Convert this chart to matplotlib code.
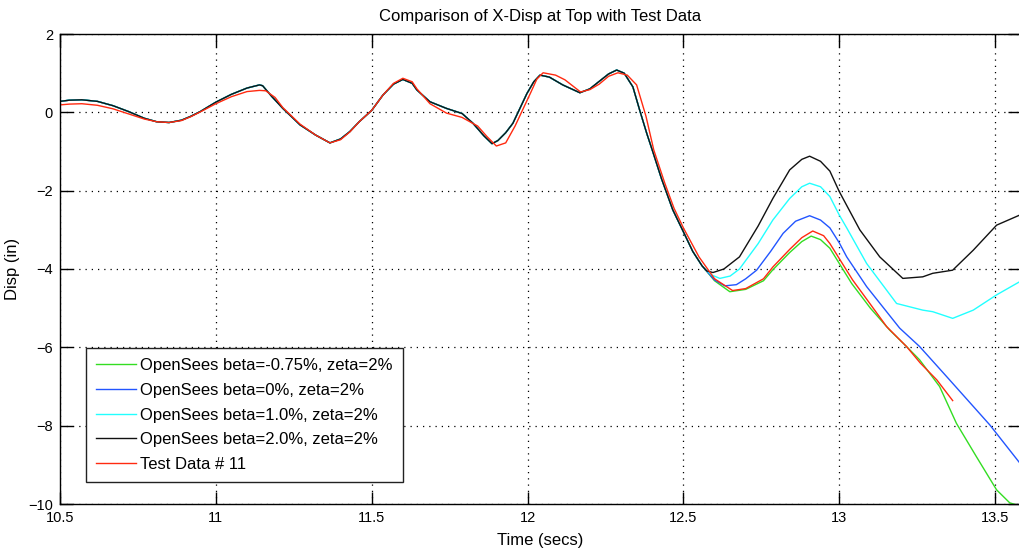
import matplotlib.pyplot as plt

# shared part of the four OpenSees runs (they overlap up to ~12.56 s)
t_common = [10.50, 10.53, 10.57, 10.62, 10.67, 10.72, 10.77, 10.81, 10.85, 10.89,
            10.92, 10.95, 11.00, 11.05, 11.10, 11.14, 11.15, 11.18, 11.215, 11.27,
            11.32, 11.366, 11.40, 11.43, 11.46, 11.50, 11.536, 11.57, 11.60, 11.63,
            11.645, 11.687, 11.74, 11.79, 11.825, 11.86, 11.886, 11.905, 11.93, 11.953,
            11.998, 12.02, 12.04, 12.07, 12.113, 12.168, 12.20, 12.222, 12.26, 12.286,
            12.31, 12.338, 12.36, 12.383, 12.40, 12.43, 12.466, 12.50, 12.53, 12.56]
d_common = [0.28, 0.31, 0.32, 0.28, 0.17, 0.02, -0.15, -0.24, -0.26, -0.20,
            -0.10, 0.02, 0.26, 0.46, 0.62, 0.70, 0.68, 0.40, 0.10, -0.32,
            -0.58, -0.78, -0.68, -0.49, -0.24, 0.05, 0.44, 0.72, 0.84, 0.74,
            0.57, 0.27, 0.10, -0.03, -0.28, -0.60, -0.80, -0.72, -0.52, -0.28,
            0.48, 0.78, 0.95, 0.90, 0.70, 0.50, 0.60, 0.74, 0.98, 1.08,
            1.00, 0.65, 0.05, -0.55, -0.96, -1.70, -2.49, -3.05, -3.55, -3.92]

# beta = -0.75 %
t_green = [12.56, 12.60, 12.649, 12.70, 12.757, 12.787, 12.841, 12.88, 12.91, 12.94,
           12.97, 13.04, 13.10, 13.162, 13.216, 13.258, 13.322, 13.376, 13.44, 13.505,
           13.547, 13.58]
d_green = [-3.92, -4.30, -4.58, -4.52, -4.30, -4.02, -3.58, -3.30, -3.16, -3.25,
           -3.47, -4.37, -5.00, -5.56, -5.98, -6.32, -7.00, -7.94, -8.79, -9.64,
           -9.97, -10.05]

# beta = 0 %
t_blue = [12.56, 12.60, 12.633, 12.67, 12.70, 12.735, 12.78, 12.82, 12.86, 12.905,
          12.94, 12.97, 13.00, 13.024, 13.088, 13.194, 13.258, 13.354, 13.483, 13.58]
d_blue = [-3.92, -4.28, -4.43, -4.40, -4.25, -4.03, -3.55, -3.09, -2.78, -2.64,
          -2.75, -2.95, -3.33, -3.69, -4.45, -5.51, -5.98, -6.83, -7.98, -8.96]

# beta = 1.0 %
t_cyan = [12.56, 12.59, 12.617, 12.65, 12.68, 12.74, 12.787, 12.841, 12.88, 12.905,
          12.94, 12.97, 13.00, 13.024, 13.088, 13.184, 13.268, 13.30, 13.364, 13.43,
          13.505, 13.58]
d_cyan = [-3.92, -4.15, -4.24, -4.18, -4.00, -3.35, -2.75, -2.20, -1.90, -1.81,
          -1.90, -2.15, -2.62, -2.95, -3.86, -4.88, -5.05, -5.09, -5.26, -5.05,
          -4.66, -4.32]

# beta = 2.0 %
t_black = [12.56, 12.575, 12.595, 12.63, 12.68, 12.74, 12.787, 12.841, 12.88, 12.905,
           12.94, 12.97, 13.00, 13.066, 13.13, 13.204, 13.268, 13.30, 13.364, 13.43,
           13.505, 13.58]
d_black = [-3.92, -4.05, -4.09, -4.00, -3.69, -2.90, -2.20, -1.47, -1.20, -1.12,
           -1.25, -1.50, -2.02, -3.00, -3.69, -4.24, -4.20, -4.11, -4.03, -3.52,
           -2.88, -2.62]

# measured response, test # 11
t_test = [10.50, 10.53, 10.57, 10.62, 10.67, 10.72, 10.77, 10.81, 10.85, 10.89,
          10.92, 10.95, 11.00, 11.05, 11.10, 11.14, 11.16, 11.19, 11.215, 11.27,
          11.32, 11.366, 11.40, 11.43, 11.46, 11.50, 11.536, 11.57, 11.60, 11.63,
          11.645, 11.687, 11.74, 11.79, 11.84, 11.87, 11.90, 11.93, 11.96, 12.01,
          12.03, 12.05, 12.09, 12.12, 12.17, 12.20, 12.23, 12.26, 12.29, 12.32,
          12.35, 12.38, 12.405, 12.44, 12.47, 12.50, 12.55, 12.60, 12.658, 12.70,
          12.757, 12.787, 12.841, 12.88, 12.915, 12.95, 12.97, 13.043, 13.10, 13.152,
          13.216, 13.26, 13.313, 13.364]
d_test = [0.19, 0.21, 0.22, 0.18, 0.09, -0.04, -0.17, -0.24, -0.26, -0.21,
          -0.11, 0.01, 0.22, 0.40, 0.53, 0.56, 0.55, 0.38, 0.12, -0.30,
          -0.58, -0.78, -0.70, -0.50, -0.24, 0.05, 0.44, 0.74, 0.87, 0.78,
          0.60, 0.22, -0.02, -0.13, -0.35, -0.62, -0.86, -0.78, -0.35, 0.50,
          0.85, 1.01, 0.95, 0.83, 0.52, 0.58, 0.72, 0.92, 1.01, 0.95,
          0.70, -0.10, -0.96, -1.80, -2.45, -2.95, -3.69, -4.25, -4.55, -4.50,
          -4.25, -3.95, -3.50, -3.20, -3.03, -3.15, -3.35, -4.28, -4.90, -5.47,
          -5.98, -6.40, -6.83, -7.36]

labels = ['OpenSees beta=-0.75%, zeta=2%', 'OpenSees beta=0%, zeta=2%',
          'OpenSees beta=1.0%, zeta=2%', 'OpenSees beta=2.0%, zeta=2%',
          'Test Data # 11']

plt.rcParams['font.family'] = ['Liberation Sans', 'DejaVu Sans']

fig = plt.figure(figsize=(10.2, 5.53), dpi=100)
ax = fig.add_axes([60 / 1020, 49 / 553, 960 / 1020, 470 / 553])

sims = [(t_green, d_green, '#33dd22'), (t_blue, d_blue, '#2255ff'),
        (t_cyan, d_cyan, '#22ffff'), (t_black, d_black, '#111111')]
for (t, d, c), lab in zip(sims, labels[:4]):
    ax.plot(t_common[:-1] + t, d_common[:-1] + d, color=c, lw=1.0, label=lab)
ax.plot(t_test, d_test, color='#ff2a10', lw=1.0, label=labels[4])

ax.set_xlim(10.5, 13.58)
ax.set_ylim(-10, 2)
ax.set_xticks([10.5, 11, 11.5, 12, 12.5, 13, 13.5])
ax.set_xticklabels(['10.5', '11', '11.5', '12', '12.5', '13', '13.5'])
ax.set_yticks(range(-10, 3, 2))
ax.grid(True, color='black', linestyle=(0, (1, 4)), linewidth=0.9)
ax.tick_params(direction='in', length=9, width=1.0, top=True, right=True,
               labelsize=10.5, pad=5)
for s in ax.spines.values():
    s.set_linewidth(1.0)

ax.set_title('Comparison of X-Disp at Top with Test Data', fontsize=12, pad=9)
ax.set_xlabel('Time (secs)', fontsize=12, labelpad=6)
ax.set_ylabel('Disp (in)', fontsize=12)
ax.yaxis.set_label_coords(-0.042, 0.5)

leg = ax.legend(loc='lower left', bbox_to_anchor=(0.027, 0.047), borderaxespad=0,
                fontsize=12, fancybox=False, framealpha=1, edgecolor='#222222',
                handlelength=2.4, handletextpad=0.25, labelspacing=0.58,
                borderpad=0.6)
leg.get_frame().set_linewidth(1.0)

fig.savefig('out.png', dpi=100)
